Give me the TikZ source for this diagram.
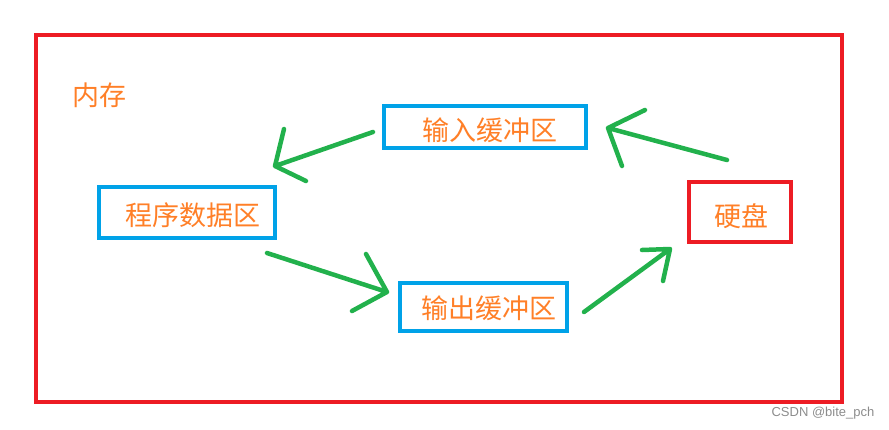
\documentclass[tikz,border=0pt]{standalone}
\usepackage{fontspec}
\newfontfamily\cjk{Noto Sans CJK SC}
\setsansfont{Liberation Sans}
\definecolor{pblue}{HTML}{00A2E8}
\definecolor{pred}{HTML}{ED1C24}
\definecolor{pgreen}{HTML}{22B14C}
\definecolor{porange}{HTML}{FF7F27}
\begin{document}
\begin{tikzpicture}[x=1pt,y=-1pt,
  lbl/.style={text=porange,font=\cjk\fontsize{27}{32}\selectfont,inner sep=0pt},
  bluebox/.style={draw=pblue,line width=4.5pt},
  redbox/.style={draw=pred,line width=4.5pt},
  garrow/.style={draw=pgreen,line width=4.5pt,line cap=round,line join=round}]
\useasboundingbox (0,0) rectangle (889,429);
\draw[redbox] (36,35) rectangle (842,402);
\node[lbl] (mem) at (99,95) {内存};
% boxes
\draw[bluebox] (384,106) rectangle (586,148);
\node[lbl] (inb) at (490,130) {输入缓冲区};
\draw[bluebox] (99,187) rectangle (275,238);
\node[lbl] (prog) at (193,215) {程序数据区};
\draw[bluebox] (400,283) rectangle (567,331);
\node[lbl] (outb) at (489,308) {输出缓冲区};
\draw[redbox] (689,182) rectangle (791,242);
\node[lbl] (disk) at (741,216) {硬盘};
% arrow tips/tails
\coordinate (a1s) at (373,132); \coordinate (a1t) at (275,166);
\coordinate (a1h1) at (284,129); \coordinate (a1h2) at (306,181);
\coordinate (a2s) at (727,160); \coordinate (a2t) at (608,128);
\coordinate (a2h1) at (645,110); \coordinate (a2h2) at (622,166);
\coordinate (a3s) at (267,253); \coordinate (a3t) at (387,292);
\coordinate (a3h1) at (366,254); \coordinate (a3h2) at (352,311);
\coordinate (a4s) at (584,312); \coordinate (a4t) at (670,249);
\coordinate (a4h1) at (642,250); \coordinate (a4h2) at (663,281);
\draw[garrow] (a1s) -- (a1t) (a1h1) -- (a1t) -- (a1h2);
\draw[garrow] (a2s) -- (a2t) (a2h1) -- (a2t) -- (a2h2);
\draw[garrow] (a3s) -- (a3t) (a3h1) -- (a3t) -- (a3h2);
\draw[garrow] (a4s) -- (a4t) (a4h1) -- (a4t) -- (a4h2);
\node[text=black!45,font=\sffamily\fontsize{13}{15}\selectfont,inner sep=0pt] (wm) at (823,413) {CSDN @bite\_pch};
\end{tikzpicture}
\end{document}
